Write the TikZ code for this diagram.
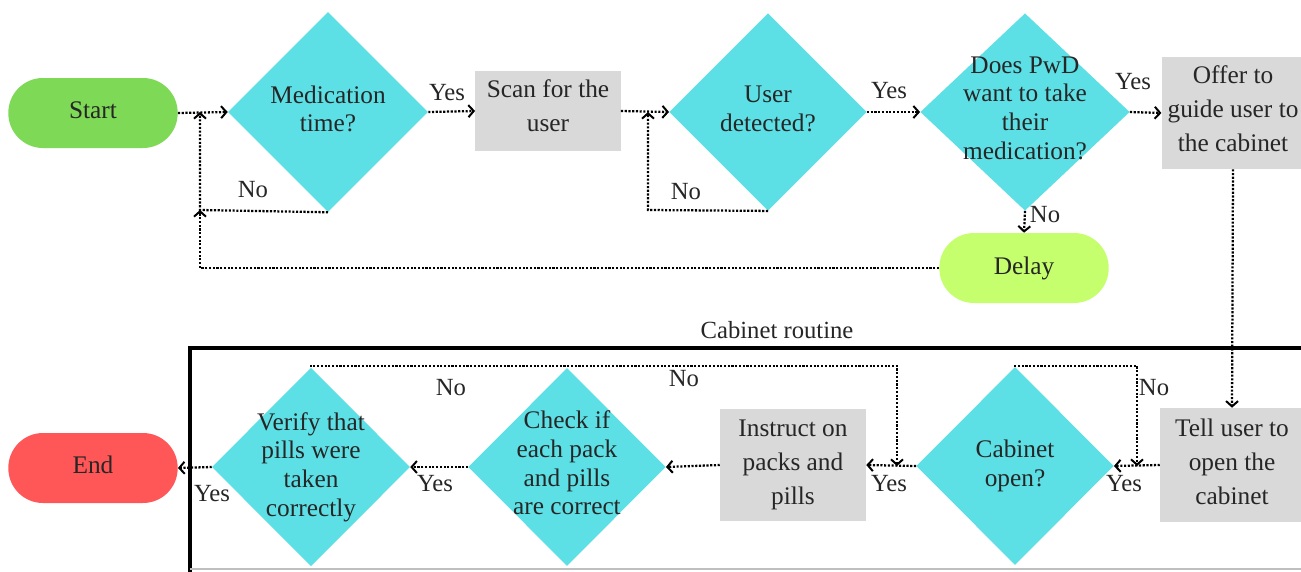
\documentclass[tikz,border=0pt]{standalone}
\usepackage{fontspec}
\setmainfont{Liberation Serif}
\usetikzlibrary{arrows.meta,shapes.geometric}
\definecolor{diacol}{HTML}{5CE0E6}
\definecolor{boxcol}{HTML}{D9D9D9}
\definecolor{startcol}{HTML}{7ED957}
\definecolor{delaycol}{HTML}{C6FF6E}
\definecolor{endcol}{HTML}{FF5757}
\definecolor{textc}{HTML}{262626}
\begin{document}
\begin{tikzpicture}[x=0.75pt,y=-0.75pt,
  txt/.style={font=\fontsize{19}{21.5}\selectfont, align=center, text=textc, inner sep=0pt},
  btxt/.style={font=\fontsize{19}{25.5}\selectfont, align=center, text=textc, inner sep=0pt},
  lbl/.style={font=\fontsize{18.5}{21}\selectfont, text=textc, inner sep=0pt},
  dianode/.style={diamond, fill=diacol, inner sep=0pt},
  procbox/.style={rectangle, fill=boxcol, inner sep=0pt},
  pill/.style={rectangle, rounded corners=26pt, inner sep=0pt, minimum width=127pt, minimum height=52.5pt},
  flow/.style={line width=1.7pt, dash pattern=on 1.6pt off 1.2pt,
    -{Straight Barb[length=4pt,width=9pt,line width=1.5pt]}}]
\clip (0,0) rectangle (1301,571);
\fill[white] (0,0) rectangle (1301,571);

% frame
\draw[line width=3pt] (190,575) -- (190,348) -- (1305,348);
\draw[black!25, line width=0.8pt] (190,569) -- (1301,569);
\node[lbl] (croutine) at (777,330) {Cabinet routine};

% top row
\node[pill, fill=startcol] (start) at (93,113) {};
\node[txt] (startt) at (93,110) {Start};
\node[dianode, minimum width=150pt, minimum height=150pt] (d1) at (328,112) {};
\node[txt] (d1t) at (328,109) {Medication\\time?};
\node[procbox, minimum width=109pt, minimum height=60pt] (scan) at (548,111) {};
\node[btxt] (scant) at (548,106) {Scan for the\\user};
\node[dianode, minimum width=148pt, minimum height=148pt] (d2) at (768,112) {};
\node[txt] (d2t) at (768,109) {User\\detected?};
\node[dianode, minimum width=157pt, minimum height=148pt] (d3) at (1025,112) {};
\node[txt] (d3t) at (1025,108) {Does PwD\\want to take\\their\\medication?};
\node[procbox, minimum width=107pt, minimum height=84pt] (offer) at (1233,113) {};
\node[btxt] (offert) at (1233,109) {Offer to\\guide user to\\the cabinet};
\node[pill, fill=delaycol] (delay) at (1024,268) {};
\node[txt] (delayt) at (delay) {Delay};

% bottom row
\node[pill, fill=endcol] (end) at (93,468) {};
\node[txt] (endt) at (93,465) {End};
\node[dianode, minimum width=148.5pt, minimum height=149pt] (d5) at (311,467) {};
\node[txt] (d5t) at (d5) {Verify that\\pills were\\taken\\correctly};
\node[dianode, minimum width=148pt, minimum height=148.5pt] (d6) at (567,467) {};
\node[txt] (d6t) at (567,463) {Check if\\each pack\\and pills\\are correct};
\node[procbox, minimum width=109.5pt, minimum height=84pt] (instr) at (793,465) {};
\node[btxt] (instrt) at (instr) {Instruct on\\packs and\\pills};
\node[dianode, minimum width=148pt, minimum height=148.5pt] (d4) at (1015,466) {};
\node[txt] (d4t) at (d4) {Cabinet\\open?};
\node[procbox, minimum width=108pt, minimum height=85.5pt] (tell) at (1232,465) {};
\node[btxt] (tellt) at (1232,462) {Tell user to\\open the\\cabinet};

% junction coordinates
\coordinate (j1a) at (200,112);
\coordinate (j1b) at (200,210);
\coordinate (j2a) at (648,112);
\coordinate (j2b) at (648,210);
\coordinate (j4a) at (1137,466);
\coordinate (j4b) at (1137,366);
\coordinate (j5a) at (897,466);
\coordinate (j5b) at (897,366);

% connectors top
\draw[flow] (start.east) -- (d1.west);
\draw[flow] (d1.south) -- (j1b) -- (j1a);
\draw[flow] (delay.west) -| (j1b);
\draw[flow] (d1.east) -- (scan.west);
\draw[flow] (scan.east) -- (d2.west);
\draw[flow] (d2.south) -- (j2b) -- (j2a);
\draw[flow] (d2.east) -- (d3.west);
\draw[flow] (d3.east) -- (offer.west);
\draw[flow] (d3.south) -- (delay.north);
\draw[flow] (offer.south) -- (tell.north);

% connectors bottom
\draw[flow] (tell.west) -- (d4.east);
\draw[flow] (d4.north) -- (d4.north|-j4b) -- (j4b) -- (j4a);
\draw[flow] (d4.west) -- (instr.east);
\draw[flow] (d5.north) -- (d5.north|-j5b) -- (j5b) -- (j5a);
\draw[flow] (instr.west) -- (d6.east);
\draw[flow] (d6.west) -- (d5.east);
\draw[flow] (d5.west) -- (end.east);

% labels
\node[lbl] (y1) at (447,93) {Yes};
\node[lbl] (n1) at (253,190) {No};
\node[lbl] (n2) at (686,192) {No};
\node[lbl] (y2) at (889,91) {Yes};
\node[lbl] (y3) at (1133,82) {Yes};
\node[lbl] (n3) at (1045,215) {No};
\node[lbl] (n4) at (451,388) {No};
\node[lbl] (n5) at (684,379) {No};
\node[lbl] (n6) at (1154,388) {No};
\node[lbl] (y4) at (1124,484) {Yes};
\node[lbl] (y5) at (889,484) {Yes};
\node[lbl] (y6) at (435,484) {Yes};
\node[lbl] (y7) at (212,494) {Yes};
\end{tikzpicture}
\end{document}
